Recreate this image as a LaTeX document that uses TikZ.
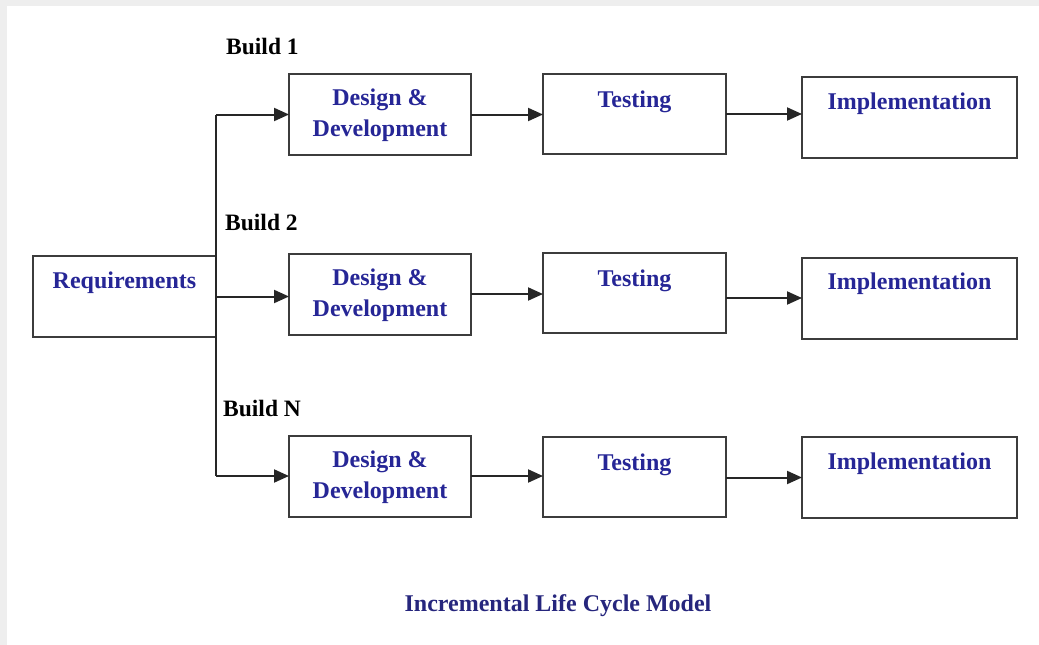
\documentclass[tikz,border=0pt]{standalone}
\usepackage{fontspec}
\setmainfont{Liberation Serif}
\usetikzlibrary{arrows.meta,positioning,calc}
\definecolor{frame}{RGB}{238,238,238}
\definecolor{boxline}{RGB}{60,60,60}
\definecolor{boxtext}{RGB}{38,38,150}
\definecolor{titletext}{RGB}{38,38,125}
\tikzset{
  stagebox/.style={draw=boxline, line width=2pt, fill=white, rectangle,
    inner sep=0pt, outer sep=0pt},
  boxlbl/.style={text=boxtext, font=\fontsize{24}{31}\selectfont\bfseries,
    align=center, inner sep=0pt},
  buildlbl/.style={text=black, font=\fontsize{23.5}{28}\selectfont\bfseries,
    anchor=west, inner sep=0pt},
  link/.style={draw=black!85, line width=2pt},
  flow/.style={link, -{Triangle[length=15pt,width=13pt]}}
}
\begin{document}
\begin{tikzpicture}[x=1pt,y=-1pt]
  % page frame
  \useasboundingbox (0,0) rectangle (1039,645);
  \fill[frame] (0,0) rectangle (1039,645);
  \fill[white] (7,6) rectangle (1039,645);

  % requirements box
  \node[stagebox, minimum width=183pt, minimum height=81pt] (req) at (124.5,296.5) {};
  \node[boxlbl] (req-t) at ([yshift=14pt]req.center) {Requirements};

  % build 1
  \node[stagebox, minimum width=182pt, minimum height=81pt] (d1) at (380,114.5) {};
  \node[stagebox, minimum width=183pt, minimum height=80pt] (t1) at (634.5,114) {};
  \node[stagebox, minimum width=215pt, minimum height=81pt] (i1) at (909.5,117.5) {};
  % build 2
  \node[stagebox, minimum width=182pt, minimum height=81pt] (d2) at (380,294) {};
  \node[stagebox, minimum width=183pt, minimum height=80pt] (t2) at (634.5,293) {};
  \node[stagebox, minimum width=215pt, minimum height=81pt] (i2) at (909.5,298) {};
  % build N
  \node[stagebox, minimum width=182pt, minimum height=81pt] (d3) at (380,476) {};
  \node[stagebox, minimum width=183pt, minimum height=80pt] (t3) at (634.5,476.5) {};
  \node[stagebox, minimum width=215pt, minimum height=81pt] (i3) at (909.5,477.5) {};

  % box texts
  \foreach \r in {1,2,3} {
    \node[boxlbl] (d\r-t) at ([yshift=-1pt]d\r.center) {Design \&\\Development};
    \node[boxlbl] (t\r-t) at ([yshift=12pt]t\r.center) {Testing};
    \node[boxlbl] (i\r-t) at ([yshift=14pt]i\r.center) {Implementation};
  }

  % build labels
  \node[buildlbl] (b1) at (226,46) {Build 1};
  \node[buildlbl] (b2) at (225,222) {Build 2};
  \node[buildlbl] (bn) at (223,408) {Build N};

  % trunk from the requirements box
  \draw[link] (d1.west -| req.east) -- (d3.west -| req.east);
  \draw[flow] (d1.west -| req.east) -- (d1.west);
  \draw[flow] (req.east) -- (req.east -| d2.west);
  \draw[flow] (d3.west -| req.east) -- (d3.west);

  % stage to stage
  \draw[flow] (d1.east) -- (d1.east -| t1.west);
  \draw[flow] (t1.east) -- (t1.east -| i1.west);
  \draw[flow] (d2.east) -- (d2.east -| t2.west);
  \draw[flow] (i2.west -| t2.east) -- (i2.west);
  \draw[flow] (d3.east) -- (d3.east -| t3.west);
  \draw[flow] (i3.west -| t3.east) -- (i3.west);

  % caption
  \node[boxlbl, text=titletext] (title) at (558,606) {Incremental Life Cycle Model};
\end{tikzpicture}
\end{document}
